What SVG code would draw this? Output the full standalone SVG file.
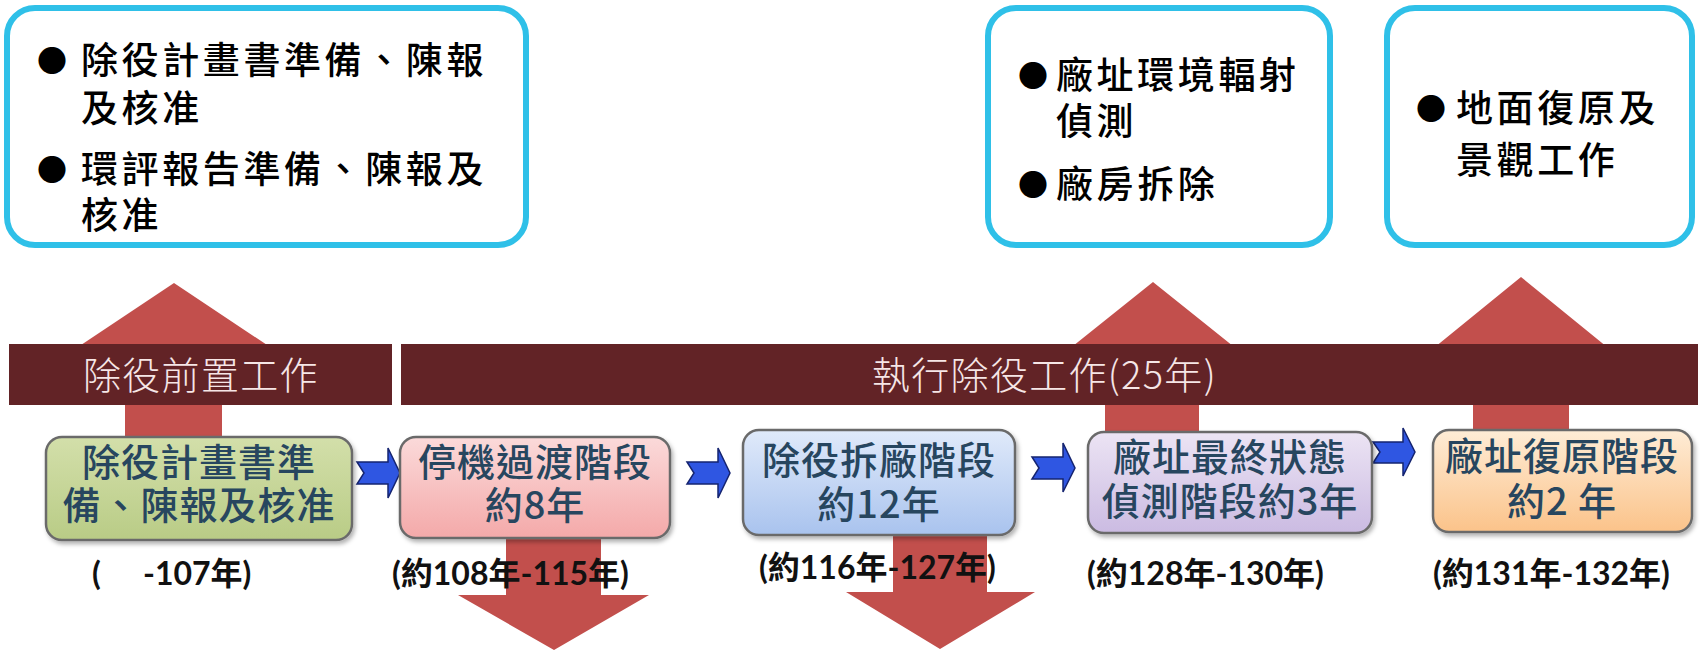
<svg xmlns="http://www.w3.org/2000/svg" width="1700" height="652" viewBox="0 0 1700 652">
<style>
.note{fill:#fff;stroke:#2fc0e8;stroke-width:6}
.nt{font-family:"Noto Sans CJK TC","Noto Sans CJK SC",sans-serif;font-size:37px;letter-spacing:3.6px;fill:#000;font-weight:500}
.bul{font-family:"Noto Sans CJK TC",sans-serif;font-size:30px;fill:#000;text-anchor:middle}
.bar{fill:#622326}
.bt{font-family:"Noto Sans CJK TC",sans-serif;font-size:38px;fill:#f6e6e6;letter-spacing:1.3px;font-weight:300}
.red{fill:#c24f4c}
.stage{stroke:#6b6b6b;stroke-width:2.5}
.st{font-family:"Noto Sans CJK TC",sans-serif;font-size:38px;fill:#27465f;text-anchor:middle;font-weight:500;letter-spacing:1px}
.yr{font-family:"Lato","Noto Sans CJK TC",sans-serif;font-size:32px;font-weight:700;fill:#111}
.flow{fill:#2f56e2;stroke:#152470;stroke-width:1.5;stroke-linejoin:miter}
</style>
<defs>
<linearGradient id="gG" x1="0" y1="0" x2="0" y2="1"><stop offset="0" stop-color="#d3dfaa"/><stop offset="1" stop-color="#b9cc86"/></linearGradient>
<linearGradient id="gP" x1="0" y1="0" x2="0" y2="1"><stop offset="0" stop-color="#fbdada"/><stop offset="1" stop-color="#f4a9a9"/></linearGradient>
<linearGradient id="gB" x1="0" y1="0" x2="0" y2="1"><stop offset="0" stop-color="#e0eafa"/><stop offset="1" stop-color="#a9c3ee"/></linearGradient>
<linearGradient id="gV" x1="0" y1="0" x2="0" y2="1"><stop offset="0" stop-color="#ece4f4"/><stop offset="1" stop-color="#cbbbe2"/></linearGradient>
<linearGradient id="gO" x1="0" y1="0" x2="0" y2="1"><stop offset="0" stop-color="#feecd6"/><stop offset="1" stop-color="#fbc38a"/></linearGradient>
<filter id="sh" x="-10%" y="-10%" width="120%" height="130%"><feDropShadow dx="2" dy="3" stdDeviation="2" flood-color="#000" flood-opacity="0.3"/></filter>
</defs>
<rect width="1700" height="652" fill="#fff"/>

<g id="connectors">
  <path class="red" d="M174,283 L321,381 L222,381 L222,437 L125,437 L125,381 L27,381 Z"/>
  <path class="red" d="M1153,282 L1278,382 L1199,382 L1199,433 L1105,433 L1105,382 L1028,382 Z"/>
  <path class="red" d="M1521,277 L1650,382 L1569,382 L1569,430 L1473,430 L1473,382 L1392,382 Z"/>
  <path class="red" d="M506,538 L601,538 L601,595 L649,595 L554,650 L458,595 L506,595 Z"/>
  <path class="red" d="M893,535 L987,535 L987,592 L1035,592 L940,649 L846,592 L893,592 Z"/>
  <path class="flow" d="M357,462 L388,462 L388,448 L400,473 L388,498 L388,484 L357,484 L364,473 Z"/>
  <path class="flow" d="M687,462 L718,462 L718,448 L730,473 L718,498 L718,484 L687,484 L694,473 Z"/>
  <path class="flow" d="M1032,457 L1063,457 L1063,443 L1075,468 L1063,492 L1063,479 L1032,479 L1039,468 Z"/>
  <path class="flow" d="M1373,442 L1403,442 L1403,428 L1415,452 L1403,476 L1403,463 L1373,463 L1380,452 Z"/>
</g>

<g id="note1">
  <rect class="note" x="7" y="8" width="519" height="237" rx="28"/>
  <text class="bul" x="52" y="72">●</text>
  <text class="nt" x="81" y="74">除役計畫書準備、陳報<tspan x="81" y="122">及核准</tspan></text>
  <text class="bul" x="52" y="181">●</text>
  <text class="nt" x="81" y="183">環評報告準備、陳報及<tspan x="81" y="229">核准</tspan></text>
</g>
<g id="note2">
  <rect class="note" x="988" y="8" width="342" height="237" rx="28"/>
  <text class="bul" x="1033" y="87">●</text>
  <text class="nt" x="1056" y="89">廠址環境輻射<tspan x="1056" y="135">偵測</tspan></text>
  <text class="bul" x="1033" y="196">●</text>
  <text class="nt" x="1056" y="198">廠房拆除</text>
</g>
<g id="note3">
  <rect class="note" x="1387" y="8" width="305" height="237" rx="28"/>
  <text class="bul" x="1431" y="120">●</text>
  <text class="nt" x="1456" y="122">地面復原及<tspan x="1456" y="174">景觀工作</tspan></text>
</g>

<g id="bar1">
  <rect class="bar" x="9" y="344" width="383" height="61"/>
  <text class="bt" x="83" y="389">除役前置工作</text>
</g>
<g id="bar2">
  <rect class="bar" x="401" y="344" width="1297" height="61"/>
  <text class="bt" x="872" y="389">執行除役工作(25年)</text>
</g>

<g id="stage1">
  <rect class="stage" x="46" y="437" width="306" height="103" rx="16" fill="url(#gG)" filter="url(#sh)"/>
  <text class="st" x="199" y="476">除役計畫書準<tspan x="199" y="519">備、陳報及核准</tspan></text>
</g>
<g id="stage2">
  <rect class="stage" x="400" y="437" width="270" height="101" rx="16" fill="url(#gP)" filter="url(#sh)"/>
  <text class="st" x="535" y="476">停機過渡階段<tspan x="535" y="519">約8年</tspan></text>
</g>
<g id="stage3">
  <rect class="stage" x="743" y="430" width="272" height="105" rx="16" fill="url(#gB)" filter="url(#sh)"/>
  <text class="st" x="879" y="474">除役拆廠階段<tspan x="879" y="518">約12年</tspan></text>
</g>
<g id="stage4">
  <rect class="stage" x="1088" y="432" width="284" height="101" rx="16" fill="url(#gV)" filter="url(#sh)"/>
  <text class="st" x="1230" y="471">廠址最終狀態<tspan x="1230" y="515">偵測階段約3年</tspan></text>
</g>
<g id="stage5">
  <rect class="stage" x="1433" y="430" width="259" height="102" rx="16" fill="url(#gO)" filter="url(#sh)"/>
  <text class="st" x="1562" y="470">廠址復原階段<tspan x="1562" y="515">約2 年</tspan></text>
</g>

<g id="years">
  <text class="yr" x="92" y="585">(<tspan x="143">-107年)</tspan></text>
  <text class="yr" x="392" y="585">(約108年-115年)</text>
  <text class="yr" x="759" y="579">(約116年-127年)</text>
  <text class="yr" x="1087" y="585">(約128年-130年)</text>
  <text class="yr" x="1433" y="585">(約131年-132年)</text>
</g>
</svg>
